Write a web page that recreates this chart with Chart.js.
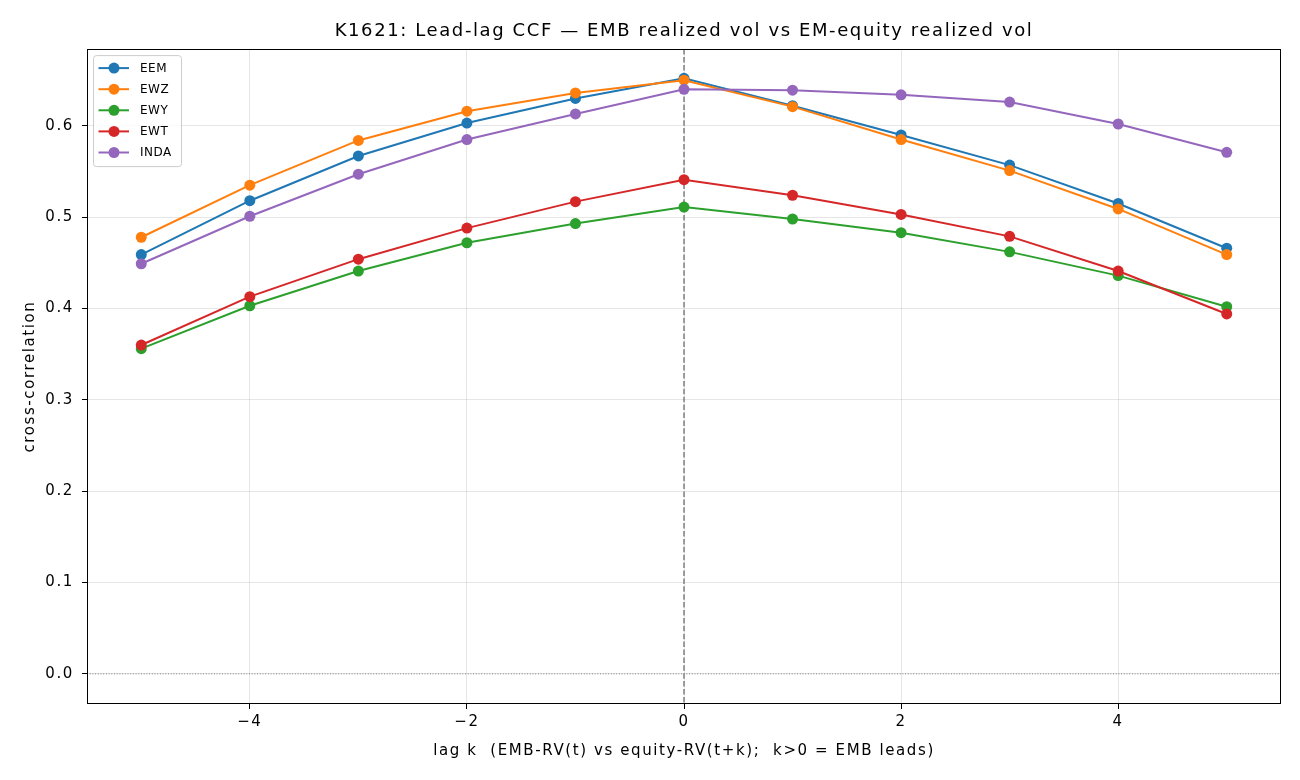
<!DOCTYPE html>
<html lang="en">
<head>
    <meta charset="UTF-8" />
    <title>K1621 Lead-lag CCF</title>
    <style>
        html, body {
            margin: 0;
            padding: 0;
            background: #fff;
        }
        #chart-container {
            width: 1300px;
            height: 780px;
        }
    </style>
    <script src="https://cdn.jsdelivr.net/npm/chart.js"></script>
</head>
<body>
<div id="chart-container">
    <canvas id="ccfChart"></canvas>
</div>

<script>
  // lags k = -5 .. 5
  const lags = [-5, -4, -3, -2, -1, 0, 1, 2, 3, 4, 5];

  const eem  = [0.459, 0.518, 0.567, 0.603, 0.630, 0.652, 0.622, 0.590, 0.557, 0.515, 0.466];
  const ewz  = [0.478, 0.535, 0.584, 0.616, 0.636, 0.650, 0.621, 0.585, 0.551, 0.509, 0.459];
  const ewy  = [0.356, 0.403, 0.441, 0.472, 0.493, 0.511, 0.498, 0.483, 0.462, 0.436, 0.402];
  const ewt  = [0.360, 0.413, 0.454, 0.488, 0.517, 0.541, 0.524, 0.503, 0.479, 0.441, 0.394];
  const inda = [0.449, 0.501, 0.547, 0.585, 0.613, 0.640, 0.639, 0.634, 0.626, 0.602, 0.571];

  const seriesNames = ["EEM", "EWZ", "EWY", "EWT", "INDA"];
  const seriesValues = [eem, ewz, ewy, ewt, inda];
  const colors = ["#1f77b4", "#ff7f0e", "#2ca02c", "#d62728", "#9467bd"];

  const xTicks = [-4, -2, 0, 2, 4];
  const yTicks = [0, 0.1, 0.2, 0.3, 0.4, 0.5, 0.6];

  const FONT = "'DejaVu Sans', sans-serif";
  const SPACING = "1.6px"; // reference text runs wider than plain DejaVu

  function fmtMinus(v) {
    return String(v).replace("-", "\u2212");
  }

  const datasets = seriesNames.map((name, i) => ({
    label: name,
    data: lags.map((k, j) => ({ x: k, y: seriesValues[i][j] })),
    borderColor: colors[i],
    backgroundColor: colors[i],
    pointBackgroundColor: colors[i],
    pointBorderColor: colors[i],
    pointBorderWidth: 0,
    pointRadius: 5.5,
    pointHoverRadius: 5.5,
    borderWidth: 2,
    tension: 0,
    order: seriesNames.length - i,
  }));

  const spacingPlugin = {
    id: "spacing",
    beforeUpdate(chart) { chart.ctx.letterSpacing = SPACING; },
    beforeLayout(chart) { chart.ctx.letterSpacing = SPACING; },
    beforeDraw(chart) { chart.ctx.letterSpacing = SPACING; },
  };

  // reference lines (k=0 dashed, y=0 dotted), full frame, legend box
  const decorPlugin = {
    id: "decor",
    beforeDatasetsDraw(chart) {
      const { ctx, chartArea: a, scales } = chart;
      ctx.save();
      ctx.beginPath();
      ctx.rect(a.left, a.top, a.right - a.left, a.bottom - a.top);
      ctx.clip();

      const y0 = scales.y.getPixelForValue(0);
      ctx.strokeStyle = "#808080";
      ctx.lineWidth = 1;
      ctx.setLineDash([1, 1.7]);
      ctx.beginPath();
      ctx.moveTo(a.left, y0);
      ctx.lineTo(a.right, y0);
      ctx.stroke();

      const x0 = scales.x.getPixelForValue(0);
      ctx.lineWidth = 1.5;
      ctx.setLineDash([5.5, 2.4]);
      ctx.beginPath();
      ctx.moveTo(x0, a.top);
      ctx.lineTo(x0, a.bottom);
      ctx.stroke();
      ctx.restore();
    },
    afterDraw(chart) {
      const { ctx, chartArea: a } = chart;
      ctx.save();
      ctx.strokeStyle = "#000";
      ctx.lineWidth = 1;
      ctx.setLineDash([]);
      ctx.strokeRect(Math.round(a.left) + 0.5, Math.round(a.top) + 0.5,
        Math.round(a.right - a.left) - 1, Math.round(a.bottom - a.top) - 1);

      // legend, upper left
      const bx = a.left + 6, by = a.top + 6, bw = 88, bh = 111;
      ctx.fillStyle = "rgba(255,255,255,0.8)";
      ctx.strokeStyle = "#cccccc";
      ctx.lineWidth = 1;
      ctx.beginPath();
      ctx.roundRect(bx + 0.5, by + 0.5, bw, bh, 3);
      ctx.fill();
      ctx.stroke();

      ctx.font = "12px " + FONT;
      ctx.letterSpacing = "0.5px";
      ctx.textBaseline = "middle";
      ctx.textAlign = "left";
      seriesNames.forEach((name, i) => {
        const ry = by + 13 + i * 21.1;
        ctx.strokeStyle = colors[i];
        ctx.lineWidth = 2;
        ctx.beginPath();
        ctx.moveTo(bx + 5.5, ry);
        ctx.lineTo(bx + 36, ry);
        ctx.stroke();
        ctx.fillStyle = colors[i];
        ctx.beginPath();
        ctx.arc(bx + 21, ry, 5.5, 0, Math.PI * 2);
        ctx.fill();
        ctx.fillStyle = "#000";
        ctx.fillText(name, bx + 47, ry + 0.5);
      });
      ctx.restore();
    },
  };

  const ctx = document.getElementById("ccfChart").getContext("2d");
  new Chart(ctx, {
    type: "line",
    data: { datasets: datasets },
    plugins: [spacingPlugin, decorPlugin],
    options: {
      responsive: true,
      maintainAspectRatio: false,
      animation: false,
      layout: { padding: { left: 0, right: 19, top: 0, bottom: 0 } },
      scales: {
        x: {
          type: "linear",
          min: -5.5,
          max: 5.5,
          afterBuildTicks: (scale) => {
            scale.ticks = xTicks.map((v) => ({ value: v }));
          },
          afterFit: (scale) => {
            scale.height = 76;
          },
          border: { display: false },
          grid: {
            color: "rgba(176,176,176,0.32)",
            lineWidth: 1,
            tickColor: "#000",
            tickLength: 5,
            drawTicks: true,
          },
          ticks: {
            color: "#000",
            padding: 4,
            font: { family: FONT, size: 15 },
            callback: (v) => fmtMinus(v),
          },
          title: {
            display: true,
            text: "lag k  (EMB-RV(t) vs equity-RV(t+k);  k>0 = EMB leads)",
            color: "#000",
            font: { family: FONT, size: 15 },
            padding: { top: 0, bottom: 20 },
          },
        },
        y: {
          type: "linear",
          min: -0.033,
          max: 0.684,
          afterBuildTicks: (scale) => {
            scale.ticks = yTicks.map((v) => ({ value: v }));
          },
          afterFit: (scale) => {
            scale.width = 87;
          },
          border: { display: false },
          grid: {
            color: "rgba(176,176,176,0.32)",
            lineWidth: 1,
            tickColor: "#000",
            tickLength: 5,
            drawTicks: true,
          },
          ticks: {
            color: "#000",
            padding: 8,
            font: { family: FONT, size: 15 },
            callback: (v) => v.toFixed(1),
          },
          title: {
            display: true,
            text: "cross-correlation",
            color: "#000",
            font: { family: FONT, size: 15 },
            padding: { top: 21, bottom: 0 },
          },
        },
      },
      plugins: {
        legend: { display: false },
        tooltip: { enabled: false },
        title: {
          display: true,
          fullSize: false,
          text: "K1621: Lead-lag CCF \u2014 EMB realized vol vs EM-equity realized vol",
          color: "#000",
          font: { family: FONT, size: 18, weight: "normal" },
          padding: { top: 20.5, bottom: 7 },
        },
      },
    },
  });
</script>
</body>
</html>
